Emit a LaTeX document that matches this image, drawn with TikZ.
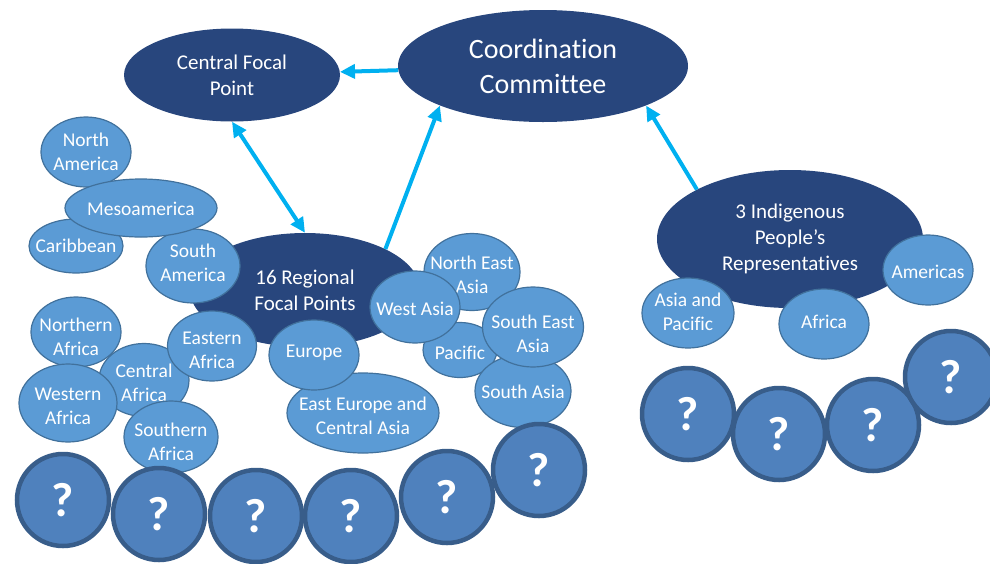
\documentclass[tikz,border=0pt]{standalone}
\usepackage{fontspec}
\setmainfont{Carlito}[Ligatures={NoCommon}]
\usetikzlibrary{shapes.geometric,arrows.meta}
\definecolor{navy}{RGB}{40,70,125}
\definecolor{lblue}{RGB}{91,155,213}
\definecolor{lborder}{RGB}{65,113,156}
\definecolor{qfill}{RGB}{79,129,189}
\definecolor{qborder}{RGB}{56,93,138}
\definecolor{arrowc}{RGB}{0,176,240}
\tikzset{
  dark/.style={ellipse, fill=navy, text=white, inner sep=-80pt, align=center},
  light/.style={ellipse, fill=lblue, draw=lborder, line width=1.2pt,
    inner sep=-80pt},
  lt/.style={text=white, align=center, inner sep=0pt, font=\fontsize{19.5}{24}\selectfont},
  tx/.style n args={3}{label={[lt, name=#1, yshift=#2pt]center:{#3}}},
  qm/.style={circle, fill=qfill, draw=qborder, line width=4.5pt, text=white,
    inner sep=0pt, minimum size=92pt, font=\bfseries\fontsize{48}{48}\selectfont},
  sz/.style 2 args={minimum width=#1pt, minimum height=#2pt},
  conn/.style={draw=arrowc, line width=4pt, -{Triangle[length=15pt,width=14pt]}},
  conn2/.style={draw=arrowc, line width=4pt, {Triangle[length=15pt,width=14pt]}-{Triangle[length=15pt,width=14pt]}}
}
\begin{document}
\begin{tikzpicture}[x=1pt,y=-1pt]
\useasboundingbox (0,0) rectangle (990,563);
% main nodes
\node[dark, sz={216}{93}, font=\fontsize{21}{26}\selectfont] (cfp) at (232,75) {Central Focal\\Point};
\node[dark, sz={290}{112}, font=\fontsize{28}{35}\selectfont] (cc) at (543,66) {Coordination\\Committee};
\node[dark, sz={230}{114}, font=\fontsize{21}{26}\selectfont] (rfp) at (305,290) {16 Regional\\Focal Points};
\node[dark, sz={266}{138}, font=\fontsize{21}{26}\selectfont] (ipr) at (790,239) {3 Indigenous\\People’s\\Representatives};
% Americas cluster
\node[light, sz={94}{54}, tx={carib-t}{0}{Caribbean}] (carib) at (76,246) {};
\node[light, sz={90}{70}, tx={nam-t}{0}{North\\America}] (nam) at (86,152) {};
\node[light, sz={94}{74}, tx={sam-t}{3}{South\\America}] (sam) at (193,266) {};
\node[light, sz={152}{58}, tx={meso-t}{-1}{Mesoamerica}] (meso) at (141,208) {};
% Africa cluster
\node[light, sz={90}{73}, tx={caf-t}{-3}{Central\\Africa}] (caf) at (144,380) {};
\node[light, sz={90}{70}, tx={naf-t}{-5}{Northern\\Africa}] (naf) at (76,332) {};
\node[light, sz={98}{78}, tx={waf-t}{-3}{Western\\Africa}] (waf) at (68,403) {};
\node[light, sz={94}{72}, tx={saf-t}{-5}{Southern\\Africa}] (saf) at (171,437) {};
\node[light, sz={89}{70}, tx={eaf-t}{-4}{Eastern\\Africa}] (eaf) at (212,346) {};
% Europe
\node[light, sz={152}{80}, tx={eeca-t}{-3}{East Europe and\\Central Asia}] (eeca) at (363,413) {};
\node[light, sz={90}{70}, tx={eur-t}{2}{Europe}] (eur) at (314,355) {};
% Asia
\node[light, sz={96}{77}, tx={nea-t}{-3}{North East\\Asia}] (nea) at (472,272) {};
\node[light, sz={74}{55}, tx={pac-t}{-3}{Pacific}] (pac) at (460,350) {};
\node[light, sz={90}{72}, tx={wa-t}{-2}{West Asia}] (wa) at (415,307) {};
\node[light, sz={96}{73}, tx={sa-t}{-1}{South Asia}] (sa) at (523,391) {};
\node[light, sz={101}{80}, tx={sea-t}{-7}{South East\\Asia}] (sea) at (533,327) {};
% Indigenous regions
\node[light, sz={92}{70}, tx={iap-t}{1}{Asia and\\Pacific}] (iap) at (688,313) {};
\node[light, sz={90}{70}, tx={iaf-t}{2}{Africa}] (iaf) at (824,324) {};
\node[light, sz={90}{70}, tx={iam-t}{-2}{Americas}] (iam) at (928,270) {};
% question circles
\node[qm] (q1) at (63,500) {?};
\node[qm] (q2) at (159,514) {?};
\node[qm] (q3) at (256,516) {?};
\node[qm] (q4) at (351,516) {?};
\node[qm] (q5) at (447,497) {?};
\node[qm] (q6) at (539,470) {?};
\node[qm] (q7) at (688,414) {?};
\node[qm] (q8) at (779,434) {?};
\node[qm] (q9) at (873,425) {?};
\node[qm] (q10) at (951,377) {?};
% connectors
\draw[conn] (cc) -- (cfp);
\draw[conn2] (cfp.south) -- (rfp.north);
\draw[conn] (rfp.27) -- (cc.201);
\draw[conn] (ipr.152) -- (cc.339);
\end{tikzpicture}
\end{document}
